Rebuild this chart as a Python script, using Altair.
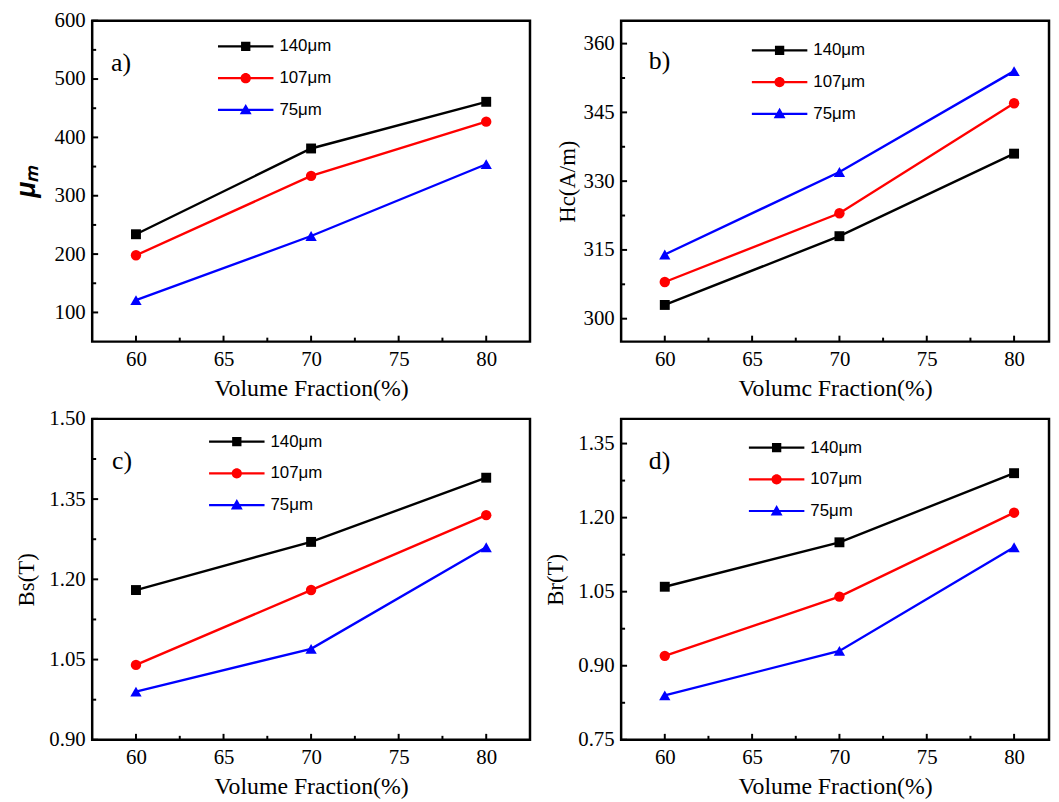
import altair as alt
import pandas as pd

# ---------------- data ----------------
X_VALS = [60, 70, 80]
SERIES = ["140μm", "107μm", "75μm"]

mu_140 = [234, 381, 461]
mu_107 = [198, 334, 427]
mu_75 = [121, 231, 354]

hc_140 = [303, 318, 336]
hc_107 = [308, 323, 347]
hc_75 = [314, 332, 354]

bs_140 = [1.18, 1.27, 1.39]
bs_107 = [1.04, 1.18, 1.32]
bs_75 = [0.99, 1.07, 1.26]

br_140 = [1.06, 1.15, 1.29]
br_107 = [0.92, 1.04, 1.21]
br_75 = [0.84, 0.93, 1.14]

X_MAJOR = [60, 65, 70, 75, 80]
X_MINOR = [62.5, 67.5, 72.5, 77.5]

A_MAJOR = [100, 200, 300, 400, 500, 600]
A_MINOR = [150, 250, 350, 450, 550]
B_MAJOR = [300, 315, 330, 345, 360]
B_MINOR = [307.5, 322.5, 337.5, 352.5]
C_MAJOR = [0.90, 1.05, 1.20, 1.35, 1.50]
C_MINOR = [0.975, 1.125, 1.275, 1.425]
D_MAJOR = [0.75, 0.90, 1.05, 1.20, 1.35]
D_MINOR = [0.825, 0.975, 1.125, 1.275]

# ---------------- style ----------------
COLORS = ["#000000", "#ff0000", "#0000ff"]
SHAPES = ["square", "circle", "triangle-up"]
SIZES = [100, 110, 130]
LINE = "M-2.8,-0.11L2.8,-0.11L2.8,0.11L-2.8,0.11Z"
LEG_PATHS = [
    LINE + "M-0.47,-0.47L0.47,-0.47L0.47,0.47L-0.47,0.47Z",
    LINE + "M0.52,0A0.52,0.52 0 1,1 -0.52,0A0.52,0.52 0 1,1 0.52,0Z",
    LINE + "M0,-0.6L0.6,0.45L-0.6,0.45Z",
]
H = 324
SERIF = "Liberation Serif"
SANS = "Liberation Sans"


def panel(vals, ydom, ymaj, ymin, yfmt, ytitle, xtitle, label, lab_xy,
          leg_xy, xdom, width, title_pad, title_font=SERIF,
          title_style="normal", title_weight="normal", title_size=23):
    rows = []
    for s, arr in zip(SERIES, vals):
        for x, v in zip(X_VALS, arr):
            rows.append({"x": x, "v": v, "s": s})
    df = pd.DataFrame(rows)
    xs = alt.Scale(domain=xdom, nice=False, zero=False)
    ys = alt.Scale(domain=ydom, nice=False, zero=False)
    cscale = alt.Scale(domain=SERIES, range=COLORS)
    xaxis = alt.Axis(values=X_MAJOR, format="d", title=xtitle, titlePadding=7)
    yaxis = alt.Axis(values=ymaj, format=yfmt, title=ytitle,
                     titlePadding=title_pad, titleFont=title_font,
                     titleFontStyle=title_style, titleFontWeight=title_weight,
                     titleFontSize=title_size)
    leg = alt.Legend(orient="none", legendX=leg_xy[0], legendY=leg_xy[1],
                     title=None, labelFont=SANS, labelFontSize=17,
                     labelColor="black", symbolSize=400, symbolStrokeWidth=0,
                     labelOffset=24, rowPadding=14, padding=0)
    X = alt.X("x:Q", scale=xs, axis=xaxis)
    Y = alt.Y("v:Q", scale=ys, axis=yaxis)
    C = alt.Color("s:N", scale=cscale, legend=leg)
    base = alt.Chart(df)

    legend_layer = base.mark_point(filled=True, opacity=0).encode(
        x=X, y=Y, color=C,
        shape=alt.Shape("s:N", scale=alt.Scale(domain=SERIES, range=LEG_PATHS),
                        legend=leg),
    )
    lines = base.mark_line(strokeWidth=2.4).encode(x=X, y=Y, color=C)
    pts = []
    for s, shp, sz in zip(SERIES, SHAPES, SIZES):
        pts.append(
            base.transform_filter(alt.datum.s == s)
            .mark_point(shape=shp, filled=True, size=sz, opacity=1)
            .encode(x=X, y=Y, color=C)
        )
    ymaj_t = alt.Chart(pd.DataFrame({"v": ymaj})).mark_rule(
        color="black", strokeWidth=2).encode(y=Y, x=alt.value(0), x2=alt.value(6))
    ymin_t = alt.Chart(pd.DataFrame({"v": ymin})).mark_rule(
        color="black", strokeWidth=2).encode(y=Y, x=alt.value(0), x2=alt.value(4))
    xmaj_t = alt.Chart(pd.DataFrame({"x": X_MAJOR})).mark_rule(
        color="black", strokeWidth=2).encode(x=X, y=alt.value(H), y2=alt.value(H - 6))
    xmin_t = alt.Chart(pd.DataFrame({"x": X_MINOR})).mark_rule(
        color="black", strokeWidth=2).encode(x=X, y=alt.value(H), y2=alt.value(H - 4))
    txt = alt.Chart(pd.DataFrame({"t": [label]})).mark_text(
        font=SERIF, fontSize=26, align="left", baseline="middle",
        color="black").encode(text="t:N", x=alt.value(lab_xy[0]),
                              y=alt.value(lab_xy[1]))
    return alt.layer(legend_layer, lines, *pts, ymaj_t, ymin_t, xmaj_t,
                     xmin_t, txt).properties(width=width, height=H)


pa = panel([mu_140, mu_107, mu_75], [50, 600], A_MAJOR, A_MINOR, "d",
           "μₘ", "Volume Fraction(%)", "a)", (19, 43), (145, 16),
           [57.5, 82.5], 442, 14, title_font=SANS, title_style="italic",
           title_weight="bold", title_size=27)
pb = panel([hc_140, hc_107, hc_75], [295, 365], B_MAJOR, B_MINOR, "d",
           "Hc(A/m)", "Volumc Fraction(%)", "b)", (28, 41), (150, 20),
           [57.5, 82.0], 432, 4)
pc = panel([bs_140, bs_107, bs_75], [0.90, 1.50], C_MAJOR, C_MINOR, ".2f",
           "Bs(T)", "Volume Fraction(%)", "c)", (20, 43), (136, 13),
           [57.5, 82.5], 442, 11)
pd_ = panel([br_140, br_107, br_75], [0.75, 1.40], D_MAJOR, D_MINOR, ".2f",
            "Br(T)", "Volume Fraction(%)", "d)", (28, 43), (147, 19),
            [57.5, 82.0], 432, 10)

chart = alt.concat(pa, pb, pc, pd_, columns=2,
                   spacing={"row": 78, "column": 92}, bounds="flush").resolve_scale(
    color="independent", shape="independent"
).resolve_legend(
    color="independent", shape="independent"
).properties(
    padding={"left": 3, "top": -4, "right": 0, "bottom": 0}
).configure_axis(
    labelFont=SERIF, labelFontSize=21, labelColor="black", labelPadding=7,
    titleFont=SERIF, titleFontSize=24, titleColor="black",
    titleFontWeight="normal", ticks=False, grid=False, domain=False,
    labelFlush=False, labelOverlap=False,
).configure_view(stroke="black", strokeWidth=2.5)

chart.save("out.html", embed_options={"renderer": "svg", "actions": False})
